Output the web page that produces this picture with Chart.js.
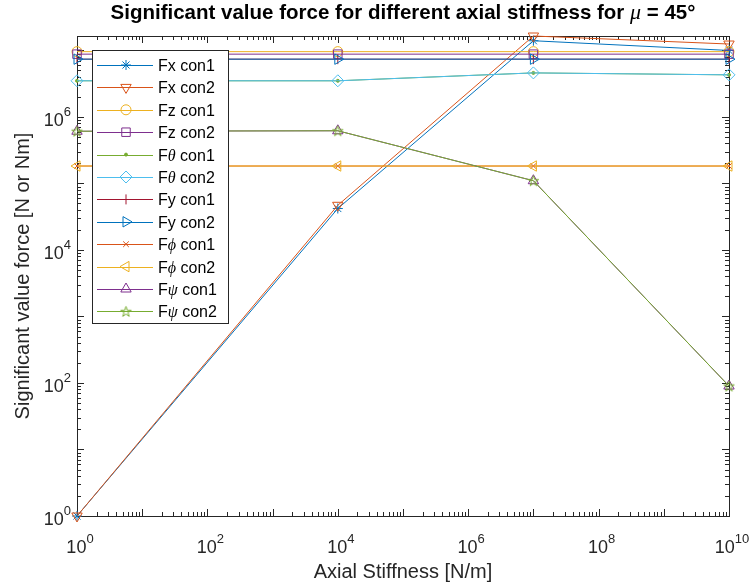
<!DOCTYPE html>
<html>
<head>
<meta charset="utf-8">
<script src="https://cdn.jsdelivr.net/npm/chart.js@4/dist/chart.umd.min.js"></script>
<style>
  html, body { margin: 0; padding: 0; background: #fff; }
</style>
</head>
<body>
<canvas id="stiffnessChart" width="750" height="583"></canvas>
<script>
// axial stiffness sweep [N/m]
const stiffness = [1, 1e4, 1e7, 1e10];

// significant force values per component / connection
const fxCon1 = [1, 4.2e4, 1.4e7, 1.0e7];
const fxCon2 = [1, 4.7e4, 1.65e7, 1.25e7];
const fzCon1 = [9.6e6, 9.6e6, 9.6e6, 9.6e6];
const fzCon2 = [8.8e6, 8.8e6, 8.8e6, 8.8e6];
const fthCon1 = [3.5e6, 3.5e6, 4.6e6, 4.3e6];
const fthCon2 = [3.5e6, 3.5e6, 4.6e6, 4.3e6];
const fyCon1 = [7.4e6, 7.4e6, 7.4e6, 7.4e6];
const fyCon2 = [7.4e6, 7.4e6, 7.4e6, 7.4e6];
const fphCon1 = [1.83e5, 1.83e5, 1.83e5, 1.83e5];
const fphCon2 = [1.83e5, 1.83e5, 1.83e5, 1.83e5];
const fpsCon1 = [6.1e5, 6.2e5, 1.1e5, 90];
const fpsCon2 = [6.1e5, 6.2e5, 1.1e5, 90];

// decade exponents that carry a label
const xTickExp = [0, 2, 4, 6, 8, 10];
const yTickExp = [0, 2, 4, 6];

const X_MIN = 1, X_MAX = 1e10;
const Y_MIN = 1, Y_MAX = 1.65e7;

const SANS = '"Liberation Sans", Arial, Helvetica, sans-serif';
const SERIF = '"Liberation Serif", "DejaVu Serif", serif';
const AXIS_COLOR = '#262626';

// matlab default colour order
const C = ['#0072BD', '#D95319', '#EDB120', '#7E2F8E', '#77AC30', '#4DBEEE', '#A2142F'];

function pentagram(color) {
    const size = 13;
    const c = document.createElement('canvas');
    c.width = size; c.height = size;
    const g = c.getContext('2d');
    const r = 5.5, ri = r * 0.382;
    g.beginPath();
    for (let i = 0; i < 10; i++) {
        const a = -Math.PI / 2 + i * Math.PI / 5;
        const rr = i % 2 ? ri : r;
        const px = size / 2 + rr * Math.cos(a);
        const py = size / 2 + 0.5 + rr * Math.sin(a);
        if (i === 0) g.moveTo(px, py); else g.lineTo(px, py);
    }
    g.closePath();
    g.strokeStyle = color;
    g.lineWidth = 1;
    g.stroke();
    return c;
}

// legend names are split so the greek letter can be set in italics
const series = [
    { name: ['F', 'x', ' con1'], greek: false, data: fxCon1, color: C[0], style: 'star', radius: 5 },
    { name: ['F', 'x', ' con2'], greek: false, data: fxCon2, color: C[1], style: 'triangle', rotation: 180, radius: 6 },
    { name: ['F', 'z', ' con1'], greek: false, data: fzCon1, color: C[2], style: 'circle', radius: 5 },
    { name: ['F', 'z', ' con2'], greek: false, data: fzCon2, color: C[3], style: 'rect', radius: 6 },
    { name: ['F', '\u03b8', ' con1'], greek: true, data: fthCon1, color: C[4], style: 'circle', radius: 1.5, fill: true },
    { name: ['F', '\u03b8', ' con2'], greek: true, data: fthCon2, color: C[5], style: 'rectRot', radius: 6 },
    { name: ['F', 'y', ' con1'], greek: false, data: fyCon1, color: C[6], style: 'line', rotation: 90, radius: 5 },
    { name: ['F', 'y', ' con2'], greek: false, data: fyCon2, color: C[0], style: 'triangle', rotation: 90, radius: 6 },
    { name: ['F', '\u03d5', ' con1'], greek: true, data: fphCon1, color: C[1], style: 'crossRot', radius: 4 },
    { name: ['F', '\u03d5', ' con2'], greek: true, data: fphCon2, color: C[2], style: 'triangle', rotation: -90, radius: 6 },
    { name: ['F', '\u03c8', ' con1'], greek: true, data: fpsCon1, color: C[3], style: 'triangle', radius: 6 },
    { name: ['F', '\u03c8', ' con2'], greek: true, data: fpsCon2, color: C[4], style: pentagram(C[4]), radius: 6 }
];

const datasets = series.map((s, i) => ({
    label: s.name.join(''),
    data: stiffness.map((x, j) => ({ x: x, y: s.data[j] })),
    borderColor: s.color,
    borderWidth: 1,
    pointStyle: s.style,
    pointRotation: s.rotation || 0,
    pointRadius: s.radius,
    pointBorderColor: s.color,
    pointBackgroundColor: s.fill ? s.color : 'rgba(0,0,0,0)',
    pointBorderWidth: 1,
    pointHoverRadius: s.radius,
    tension: 0,
    clip: false,
    order: -i
}));

// draws runs of text with different fonts; returns total width
function richText(ctx, parts, x, y, align) {
    let total = 0;
    parts.forEach(p => { ctx.font = p.font; total += ctx.measureText(p.text).width; });
    let cx = align === 'center' ? x - total / 2 : align === 'right' ? x - total : x;
    ctx.textAlign = 'left';
    parts.forEach(p => {
        ctx.font = p.font;
        ctx.fillText(p.text, cx, y + (p.dy || 0));
        cx += ctx.measureText(p.text).width;
    });
    return total;
}

function powerLabel(exp) {
    return [
        { text: '10', font: '18px ' + SANS },
        { text: String(exp), font: '13px ' + SANS, dy: -10 }
    ];
}

const frame = {
    id: 'frame',
    beforeDatasetsDraw(chart) {
        const { ctx, chartArea: a, scales } = chart;
        const xs = scales.x, ys = scales.y;
        ctx.save();
        ctx.strokeStyle = AXIS_COLOR;
        ctx.lineWidth = 1;
        ctx.beginPath();
        // x ticks, bottom and top, pointing inward
        for (let d = 0; d <= 10; d++) {
            for (let k = 1; k <= 9; k++) {
                const v = k * Math.pow(10, d);
                if (v > X_MAX || (d === 10 && k > 1)) break;
                const px = Math.round(xs.getPixelForValue(v)) + 0.5;
                const len = k === 1 ? 7 : 4;
                ctx.moveTo(px, a.bottom); ctx.lineTo(px, a.bottom - len);
                ctx.moveTo(px, a.top); ctx.lineTo(px, a.top + len);
            }
        }
        // y ticks, left and right
        for (let d = 0; d <= 7; d++) {
            for (let k = 1; k <= 9; k++) {
                const v = k * Math.pow(10, d);
                if (v > Y_MAX) break;
                const py = Math.round(ys.getPixelForValue(v)) + 0.5;
                const len = k === 1 ? 7 : 4;
                ctx.moveTo(a.left, py); ctx.lineTo(a.left + len, py);
                ctx.moveTo(a.right, py); ctx.lineTo(a.right - len, py);
            }
        }
        ctx.stroke();
        ctx.strokeRect(Math.round(a.left) + 0.5, Math.round(a.top) + 0.5,
            Math.round(a.right - a.left), Math.round(a.bottom - a.top));
        ctx.restore();
    },
    afterDraw(chart) {
        const { ctx, chartArea: a, scales } = chart;
        const xs = scales.x, ys = scales.y;
        ctx.save();
        ctx.fillStyle = AXIS_COLOR;
        ctx.textBaseline = 'alphabetic';

        xTickExp.forEach(e => {
            const px = xs.getPixelForValue(Math.pow(10, e));
            richText(ctx, powerLabel(e), px + 3, a.bottom + 37, 'center');
        });
        yTickExp.forEach(e => {
            const py = ys.getPixelForValue(Math.pow(10, e));
            richText(ctx, powerLabel(e), a.left - 6, py + 9, 'right');
        });

        // axis titles
        ctx.font = '20px ' + SANS;
        ctx.textAlign = 'center';
        ctx.fillText('Axial Stiffness [N/m]', (a.left + a.right) / 2, 578);
        ctx.save();
        ctx.translate(29, (a.top + a.bottom) / 2);
        ctx.rotate(-Math.PI / 2);
        ctx.fillText('Significant value force [N or Nm]', 0, 0);
        ctx.restore();

        // title
        ctx.fillStyle = '#000';
        richText(ctx, [
            { text: 'Significant value force for different axial stiffness for ', font: 'bold 20.5px ' + SANS },
            { text: '\u03bc', font: 'italic 22px ' + SERIF },
            { text: ' = 45\u00b0', font: 'bold 20.5px ' + SANS }
        ], (a.left + a.right) / 2, 19, 'center');

        // legend box inside the axes
        const lx = 92, ly = 50, lw = 136, lh = 273, row = 22.4;
        ctx.fillStyle = '#fff';
        ctx.fillRect(lx, ly, lw, lh);
        ctx.strokeStyle = AXIS_COLOR;
        ctx.lineWidth = 1;
        ctx.strokeRect(lx + 0.5, ly + 0.5, lw, lh);
        series.forEach((s, i) => {
            const cy = ly + 15 + i * row;
            ctx.strokeStyle = s.color;
            ctx.fillStyle = s.fill ? s.color : 'rgba(0,0,0,0)';
            ctx.lineWidth = 1;
            ctx.beginPath();
            ctx.moveTo(lx + 5, Math.round(cy) + 0.5);
            ctx.lineTo(lx + 61, Math.round(cy) + 0.5);
            ctx.stroke();
            Chart.helpers.drawPoint(ctx, {
                pointStyle: s.style,
                rotation: s.rotation || 0,
                radius: s.radius,
                borderWidth: 1
            }, lx + 34, cy);
            ctx.fillStyle = '#000';
            richText(ctx, [
                { text: s.name[0], font: '16px ' + SANS },
                { text: s.name[1], font: s.greek ? 'italic 16px ' + SERIF : '16px ' + SANS },
                { text: s.name[2], font: '16px ' + SANS }
            ], lx + 66, cy + 6, 'left');
        });
        ctx.restore();
    }
};

new Chart(document.getElementById('stiffnessChart'), {
    type: 'line',
    data: { datasets: datasets },
    options: {
        responsive: false,
        animation: false,
        layout: {
            padding: { left: 77, right: 21, top: 36, bottom: 67 }
        },
        plugins: {
            legend: { display: false },
            title: { display: false },
            tooltip: { enabled: false }
        },
        scales: {
            x: {
                type: 'logarithmic',
                min: X_MIN,
                max: X_MAX,
                display: false
            },
            y: {
                type: 'logarithmic',
                min: Y_MIN,
                max: Y_MAX,
                display: false
            }
        }
    },
    plugins: [frame]
});
</script>
</body>
</html>
